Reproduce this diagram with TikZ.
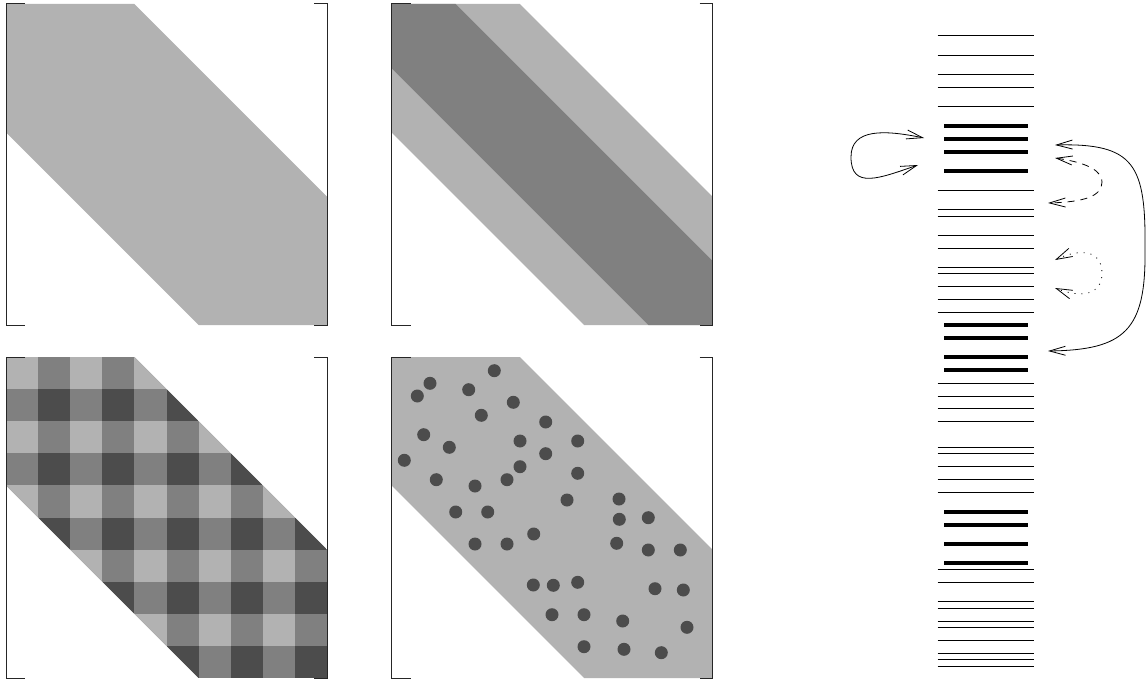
\documentclass[tikz,border=0pt]{standalone}
\usetikzlibrary{arrows.meta}
\definecolor{lightband}{gray}{0.7}
\definecolor{midband}{gray}{0.5}
\definecolor{darkband}{gray}{0.3}
\tikzset{
  bracket/.style={line width=1pt, draw=black!85},
  thinbar/.style={line width=1pt, draw=black},
  thickbar/.style={line width=4pt, draw=black},
  conn/.style={line width=0.8pt, {Straight Barb[length=16pt,width=9pt]}-{Straight Barb[length=16pt,width=9pt]}},
  spot/.style={fill=darkband},
}
\begin{document}
\begin{tikzpicture}[x=1pt,y=-1pt]
\useasboundingbox (0,0) rectangle (1146,682);

% ---------- top-left: single band ----------
\fill[lightband] (6,4) -- (134.4,4) -- (327,196.6) -- (327,325) -- (198.6,325) -- (6,132.4) -- cycle;
\draw[bracket] (25,4) -- (6,4) -- (6,325) -- (25,325);
\draw[bracket] (314,4) -- (327,4) -- (327,325) -- (314,325);

% ---------- top-right: two nested bands ----------
\fill[lightband] (391.5,4) -- (519.9,4) -- (712.5,196.6) -- (712.5,325) -- (584.1,325) -- (391.5,132.4) -- cycle;
\fill[midband] (391.5,4) -- (455.7,4) -- (712.5,260.8) -- (712.5,325) -- (648.3,325) -- (391.5,68.2) -- cycle;
\draw[bracket] (410.5,4) -- (391.5,4) -- (391.5,325) -- (410.5,325);
\draw[bracket] (699.5,4) -- (712.5,4) -- (712.5,325) -- (699.5,325);

% ---------- bottom-left: checkerboard band ----------
\begin{scope}
  \clip (6,357) -- (134.4,357) -- (327,549.6) -- (327,678) -- (198.6,678) -- (6,485.4) -- cycle;
  \fill[midband] (6,357) rectangle (327,678);
  \foreach \i in {0,2,...,8} {
    \foreach \j in {0,2,...,8} {
      \fill[lightband] ({6+\j*32.1},{357+\i*32.1}) rectangle ({6+(\j+1)*32.1},{357+(\i+1)*32.1});
    }
  }
  \foreach \i in {1,3,...,9} {
    \foreach \j in {1,3,...,9} {
      \fill[darkband] ({6+\j*32.1},{357+\i*32.1}) rectangle ({6+(\j+1)*32.1},{357+(\i+1)*32.1});
    }
  }
\end{scope}
\draw[bracket] (25,357) -- (6,357) -- (6,678) -- (25,678);
\draw[bracket] (314,357) -- (327,357) -- (327,678) -- (314,678);

% ---------- bottom-right: sparse band with dots ----------
\fill[lightband] (391.5,357) -- (519.9,357) -- (712.5,549.6) -- (712.5,678) -- (584.1,678) -- (391.5,485.4) -- cycle;
\foreach \p in {(494.3,370.7),(430,383.3),(417.3,396),(468.7,389.7),(513.3,402.3),(481.3,415.3),
  (545.7,422),(423.7,434.7),(449.3,447.3),(520,441),(577.7,441),(404.3,460.3),(545.7,453.7),
  (520,466.7),(577.7,473.3),(436.3,479.7),(475,486),(507,479.7),(567,500),(619,499),
  (455.7,512),(487.7,512),(619.3,519.3),(648.3,517.7),(533.7,534),(475,544),(507,544),
  (616.7,543.3),(648.3,550),(680.3,550),(533.3,585),(553.3,585.3),(577.7,582.3),(655,588.7),
  (683.3,590),(552,614.7),(584,614.7),(622.7,621),(687,627.3),(584,646.7),(624,649.3),(661.3,652.7)}
  \fill[spot] \p circle[radius=6.5];
\draw[bracket] (410.5,357) -- (391.5,357) -- (391.5,678) -- (410.5,678);
\draw[bracket] (699.5,357) -- (712.5,357) -- (712.5,678) -- (699.5,678);

% ---------- right: bar code ----------
\foreach \k in {0,3,6,8,11,24,27,28,31,33,36,37,39,41,43,54,56,58,60,64,65,67,69,71,83,85,88,89,91,92,94,96,97,98}
  \draw[thinbar] (937.7,{36+\k*6.4286}) -- (1034,{36+\k*6.4286});
\foreach \k in {14,16,18,21,45,47,50,52,74,76,79,82}
  \draw[thickbar] (944.3,{36+\k*6.4286}) -- (1027.7,{36+\k*6.4286});

% ---------- arrows ----------
\coordinate (loopA) at (918,165);
\coordinate (loopB) at (924,138);
\coordinate (bigA) at (1055,145);
\coordinate (bigB) at (1048,351);
\coordinate (dashA) at (1055,158);
\coordinate (dashB) at (1048,203);
\coordinate (dotA) at (1055,260);
\coordinate (dotB) at (1055,288);

\draw[conn] (loopA) .. controls (880,178) and (851,190) .. (851,157)
                    .. controls (851,128) and (885,130) .. (loopB);
\draw[conn] (bigA) .. controls (1135,143) and (1146,165) .. (1145,250)
                   .. controls (1146,330) and (1125,350) .. (bigB);
\draw[conn, dash pattern=on 7pt off 6pt] (dashA) .. controls (1090,163) and (1102,172) .. (1102,182)
                   .. controls (1102,196) and (1085,202) .. (dashB);
\draw[conn, dash pattern=on 1pt off 6pt] (dotA) .. controls (1080,248) and (1102,250) .. (1102,273)
                   .. controls (1102,296) and (1080,298) .. (dotB);
\end{tikzpicture}
\end{document}
